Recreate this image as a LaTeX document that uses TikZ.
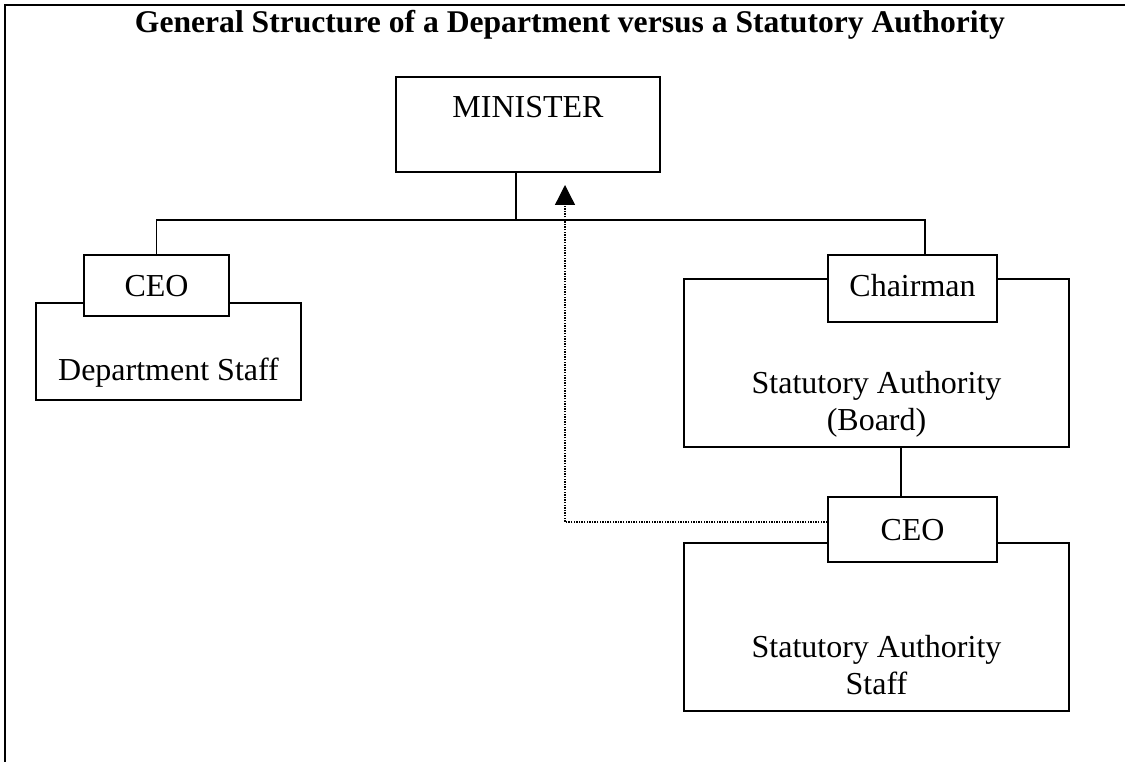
\documentclass[tikz,border=0pt]{standalone}
\usepackage{fontspec}
\setmainfont{Liberation Serif}
\usetikzlibrary{arrows.meta}
\begin{document}
\begin{tikzpicture}[x=1pt,y=-1pt,
  box/.style={draw=black, line width=1.8pt, fill=white, inner sep=0pt},
  txt/.style={inner sep=0pt, font=\fontsize{32}{37}\selectfont},
  conn/.style={draw=black, line width=1.8pt},
  dotconn/.style={draw=black, line width=1.3pt, dash pattern=on 1.3pt off 1.3pt,
     -{Triangle[length=20pt,width=20pt]}}]
\useasboundingbox (0,0) rectangle (1125,762);
% frame
\coordinate (fTL) at (5,5);
\coordinate (fTR) at (1125,5);
\coordinate (fBL) at (5,762);
\draw[line width=2.2pt] (fBL) -- (fTL) -- (fTR);
% title
\node[inner sep=0pt, anchor=base, font=\fontsize{31.6}{36}\selectfont\bfseries] (title) at (570,33)
  {General Structure of a Department versus a Statutory Authority};
% minister
\node[box, minimum width=264pt, minimum height=95pt] (min) at (528,124.5) {};
\node[txt, anchor=base] (mint) at (528,118) {MINISTER};
% left group
\node[box, minimum width=265pt, minimum height=97pt] (dstaff) at (168.5,351.5) {};
\node[txt, anchor=base] (dstafft) at (168.5,380) {Department Staff};
\node[box, minimum width=145pt, minimum height=61pt] (ceoA) at (156.5,285.5) {};
\node[txt, anchor=base] (ceoAt) at (156.5,296) {CEO};
% right group: board
\node[box, minimum width=385pt, minimum height=168pt] (board) at (876.5,363) {};
\node[txt, anchor=base] (boardt1) at (876.5,393) {Statutory Authority};
\node[txt, anchor=base] (boardt2) at (876.5,430) {(Board)};
\node[box, minimum width=169pt, minimum height=67pt] (chair) at (912.5,288.5) {};
\node[txt, anchor=base] (chairt) at (912.5,297) {Chairman};
% right group: staff
\node[box, minimum width=385pt, minimum height=168pt] (sstaff) at (876.5,627) {};
\node[txt, anchor=base] (sstafft1) at (876.5,657) {Statutory Authority};
\node[txt, anchor=base] (sstafft2) at (876.5,694) {Staff};
\node[box, minimum width=169pt, minimum height=65pt] (ceoB) at (912.5,529.5) {};
\node[txt, anchor=base] (ceoBt) at (912.5,540) {CEO};
% connectors
\coordinate (busL) at (156.5,220);
\coordinate (busM) at (516,220);
\coordinate (busR) at (925,220);
\draw[conn] (min.south -| busM) -- (busM);
\draw[conn] (ceoA.north) -- (busL) -- (busR) -- (busR |- chair.north);
\draw[conn] ([xshift=24.5pt]board.south) -- ([xshift=24.5pt]board.south |- ceoB.north);
\coordinate (dcorner) at (565,522);
\coordinate (dtip) at (565,185);
\draw[dotconn] ([yshift=7.5pt]ceoB.west) -- (dcorner) -- (dtip);
\end{tikzpicture}
\end{document}
